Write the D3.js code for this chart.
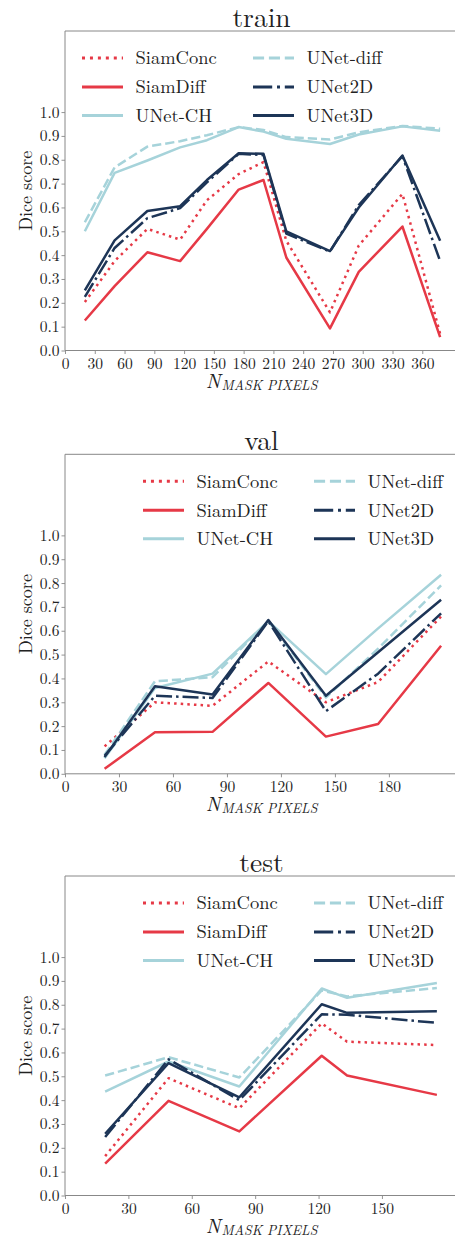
<!DOCTYPE html>
<html>
<head>
<meta charset="utf-8">
<script src="https://cdn.jsdelivr.net/npm/d3@7"></script>
<style>
  body { margin: 0; background: white; }
  svg { display: block; }
</style>
</head>
<body>
<div id="chart"></div>
<script>
// series, in plotting / legend order
const seriesNames = ["SiamConc", "SiamDiff", "UNet-CH", "UNet-diff", "UNet2D", "UNet3D"];
const seriesColors = ["#E63946", "#E63946", "#A6D3DA", "#A6D3DA", "#1D3557", "#1D3557"];
const seriesStyles = ["dotted", "solid", "solid", "dashed", "dashdot", "solid"];

// train
const trainX = [20, 50, 83, 116, 143, 175, 200, 223, 267, 296, 340, 378];
const trainValues = [
  [0.203, 0.375, 0.51, 0.465, 0.63, 0.74, 0.79, 0.46, 0.16, 0.44, 0.657, 0.07],
  [0.126, 0.27, 0.412, 0.375, 0.51, 0.675, 0.715, 0.39, 0.093, 0.33, 0.52, 0.056],
  [0.50, 0.745, 0.797, 0.852, 0.882, 0.937, 0.918, 0.888, 0.866, 0.906, 0.94, 0.922],
  [0.538, 0.768, 0.855, 0.878, 0.903, 0.937, 0.925, 0.895, 0.885, 0.915, 0.942, 0.93],
  [0.225, 0.43, 0.555, 0.597, 0.705, 0.825, 0.82, 0.49, 0.415, 0.61, 0.815, 0.375],
  [0.252, 0.462, 0.585, 0.605, 0.715, 0.827, 0.825, 0.50, 0.417, 0.60, 0.818, 0.46]
];
const trainTicks = [0, 30, 60, 90, 120, 150, 180, 210, 240, 270, 300, 330, 360];

// val
const valX = [22, 50, 82, 113, 145, 174, 209];
const valValues = [
  [0.115, 0.30, 0.285, 0.471, 0.30, 0.385, 0.66],
  [0.021, 0.174, 0.176, 0.381, 0.156, 0.209, 0.537],
  [0.065, 0.36, 0.42, 0.64, 0.418, 0.61, 0.835],
  [0.08, 0.388, 0.405, 0.64, 0.32, 0.525, 0.79],
  [0.075, 0.327, 0.318, 0.64, 0.263, 0.42, 0.673],
  [0.07, 0.367, 0.333, 0.645, 0.327, 0.51, 0.73]
];
const valTicks = [0, 30, 60, 90, 120, 150, 180];

// test
const testX = [19, 49, 82.5, 121.5, 133.5, 176];
const testValues = [
  [0.165, 0.492, 0.366, 0.722, 0.645, 0.631],
  [0.134, 0.397, 0.269, 0.586, 0.503, 0.422],
  [0.436, 0.562, 0.457, 0.868, 0.829, 0.891],
  [0.503, 0.58, 0.495, 0.86, 0.835, 0.87],
  [0.245, 0.571, 0.40, 0.76, 0.758, 0.724],
  [0.259, 0.555, 0.412, 0.802, 0.766, 0.773]
];
const testTicks = [0, 30, 60, 90, 120, 150];

const yTicks = [0, 0.1, 0.2, 0.3, 0.4, 0.5, 0.6, 0.7, 0.8, 0.9, 1.0];
const yMax = 1.34;

const FONT = '"Latin Modern Roman", "CMU Serif", "Liberation Serif", serif';
const W = 455, H = 1239;
const left = 65, right = 458, plotH = 319.5;

const panels = [
  { title: "train", top: 31, xs: trainX, values: trainValues, ticks: trainTicks, xMax: 396, legendX: 17 },
  { title: "val", top: 454.3, xs: valX, values: valValues, ticks: valTicks, xMax: 218.4, legendX: 78 },
  { title: "test", top: 876, xs: testX, values: testValues, ticks: testTicks, xMax: 186, legendX: 78 }
];

function dashFor(style, lw) {
  if (style === "dotted") return [1 * lw, 1.65 * lw].join(",");
  if (style === "dashed") return [3.7 * lw, 1.6 * lw].join(",");
  if (style === "dashdot") return [6.4 * lw, 1.6 * lw, 1 * lw, 1.6 * lw].join(",");
  return null;
}

let svg = d3.select("#chart").append("svg")
  .attr("width", W)
  .attr("height", H)
  .style("font-family", FONT);

panels.forEach(function (p) {
  const bottom = p.top + plotH;
  const g = svg.append("g");

  const x = d3.scaleLinear().domain([0, p.xMax]).range([left, right]);
  const y = d3.scaleLinear().domain([0, yMax]).range([bottom, p.top]);

  // x axis
  const xAxis = g.append("g")
    .attr("transform", `translate(0,${bottom})`)
    .call(d3.axisBottom(x).tickValues(p.ticks).tickFormat(d3.format("d"))
      .tickSize(3.5).tickSizeOuter(0).tickPadding(3.5));
  xAxis.select(".domain").remove();

  // y axis
  const yAxis = g.append("g")
    .attr("transform", `translate(${left},0)`)
    .call(d3.axisLeft(y).tickValues(yTicks).tickFormat(d3.format(".1f"))
      .tickSize(3.5).tickSizeOuter(0).tickPadding(2));
  yAxis.select(".domain").remove();

  g.selectAll(".tick line").attr("stroke", "#888").attr("stroke-width", 0.9);
  g.selectAll(".tick text")
    .style("font-family", FONT)
    .style("font-size", "15.5px")
    .attr("fill", "#222");

  // spines (left, top, bottom; right one falls outside the picture)
  g.append("path")
    .attr("d", `M${right},${p.top}H${left}V${bottom}H${right}`)
    .attr("fill", "none")
    .attr("stroke", "#888")
    .attr("stroke-width", 1);

  // lines
  const line = d3.line()
    .x((d, i) => x(p.xs[i]))
    .y(d => y(d));

  p.values.forEach(function (vals, k) {
    g.append("path")
      .datum(vals)
      .attr("d", line)
      .attr("fill", "none")
      .attr("stroke", seriesColors[k])
      .attr("stroke-width", 2.5)
      .attr("stroke-linejoin", "round")
      .attr("stroke-dasharray", dashFor(seriesStyles[k], 2.5));
  });

  // title
  g.append("text")
    .attr("x", (left + right) / 2)
    .attr("y", p.top - 4.5)
    .attr("text-anchor", "middle")
    .attr("fill", "#222")
    .style("font-family", FONT)
    .style("font-size", "27.5px")
    .text(p.title);

  // y label
  g.append("text")
    .attr("transform", `translate(32,${p.top + plotH / 2}) rotate(-90)`)
    .attr("text-anchor", "middle")
    .attr("fill", "#222")
    .style("font-family", FONT)
    .style("font-size", "18px")
    .text("Dice score");

  // x label
  const xl = g.append("text")
    .attr("x", (left + right) / 2)
    .attr("y", bottom + 37)
    .attr("text-anchor", "middle")
    .attr("fill", "#222")
    .style("font-family", FONT);
  xl.append("tspan").style("font-style", "italic").style("font-size", "20px").text("N");
  xl.append("tspan").style("font-style", "italic").style("font-size", "13.7px")
    .attr("dy", 2.5).attr("dx", 1).text("MASK PIXELS");

  // legend, two columns
  const rowsY = [27, 56, 84.5];
  seriesNames.forEach(function (name, k) {
    const col = Math.floor(k / 3), row = k % 3;
    const hx = left + p.legendX + col * 171;
    const hy = p.top + rowsY[row];
    g.append("line")
      .attr("x1", hx).attr("x2", hx + 41)
      .attr("y1", hy).attr("y2", hy)
      .attr("stroke", seriesColors[k])
      .attr("stroke-width", 3)
      .attr("stroke-dasharray", dashFor(seriesStyles[k], 3));
    g.append("text")
      .attr("x", hx + 53.5)
      .attr("y", hy)
      .attr("dy", "0.35em")
      .attr("fill", "#222")
      .style("font-family", FONT)
      .style("font-size", "18.5px")
      .text(name);
  });
});
</script>
</body>
</html>
